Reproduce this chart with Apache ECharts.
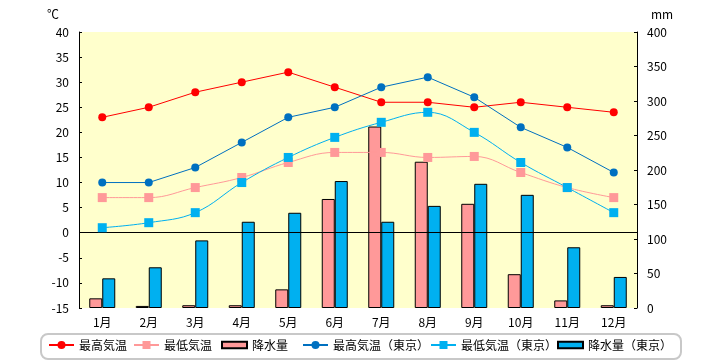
<!DOCTYPE html>
<html><head><meta charset="utf-8">
<script src="https://cdn.jsdelivr.net/npm/echarts@6/dist/echarts.min.js"></script>
<style>html,body{margin:0;padding:0;background:#fff}#c{width:720px;height:360px}</style>
</head><body><div id="c"></div>
<script>
const months = ['1月','2月','3月','4月','5月','6月','7月','8月','9月','10月','11月','12月'];
const maxTemp = [23,25,28,30,32,29,26,26,25,26,25,24];
const minTemp = [7,7,9,11,14,16,16,15,15.2,12,9,7];
const precip = [14,3,4,4,27,158,263,212,151,49,11,4];
const maxTempTokyo = [10,10,13,18,23,25,29,31,27,21,17,12];
const minTempTokyo = [1,2,4,10,15,19,22,24,20,14,9,4];
const precipTokyo = [43,59,98,125,138,184,125,148,180,164,88,45];
const seriesNames = ['最高気温','最低気温','降水量','最高気温（東京）','最低気温（東京）','降水量（東京）'];

const font = '"Noto Sans CJK JP", sans-serif';
const chart = echarts.init(document.getElementById('c'));
const barIcon = 'path://M0,0h27v7h-27z';
const legendLeft = [48, 133, 221, 302, 430, 557];
const legends = seriesNames.map((n, i) => ({
  left: legendLeft[i], top: 339, padding: 0,
  itemWidth: 25, itemHeight: 10,
  textStyle: {fontSize: 12, color: '#000', fontFamily: font},
  data: [i === 2 || i === 5 ? {name: n, icon: barIcon} : {name: n}]
}));
chart.setOption({
  animation: false,
  textStyle: {fontFamily: font},
  grid: {left: 79, right: 83, top: 32, bottom: 52, show: true, backgroundColor: '#FFFFCC', borderWidth: 0},
  graphic: [{type: 'rect', left: 40, top: 333, z: -1,
    shape: {width: 640, height: 25, r: 7},
    style: {fill: '#fff', stroke: '#c8c8c8', lineWidth: 2}}],
  legend: legends,
  xAxis: {
    type: 'category', data: months,
    axisLine: {show: false, onZero: false}, axisTick: {show: false},
    axisLabel: {color: '#000', fontSize: 12, margin: 8, fontFamily: font}
  },
  yAxis: [
    {type: 'value', min: -15, max: 40, interval: 5, name: '℃', nameGap: 12,
     nameTextStyle: {color: '#000', fontSize: 12, align: 'right', padding: [0, 20, 0, 0]},
     axisLine: {show: true, lineStyle: {color: '#000'}},
     axisTick: {show: true, inside: true, length: 3, lineStyle: {color: '#000'}},
     splitLine: {show: false},
     axisLabel: {color: '#000', fontSize: 12, margin: 10, fontFamily: font}},
    {type: 'value', min: 0, max: 400, interval: 50, name: 'mm', nameGap: 12,
     nameTextStyle: {color: '#000', fontSize: 12, align: 'left', padding: [0, 0, 0, 14]},
     axisLine: {show: true, lineStyle: {color: '#000'}},
     axisTick: {show: true, inside: true, length: 3, lineStyle: {color: '#000'}},
     splitLine: {show: false},
     axisLabel: {color: '#000', fontSize: 12, margin: 10, fontFamily: font}}
  ],
  series: [
    {name: seriesNames[0], type: 'line', data: maxTemp, yAxisIndex: 0, z: 5,
     symbol: 'circle', symbolSize: 8, itemStyle: {color: '#FF0000'}, lineStyle: {color: '#FF0000', width: 1},
     markLine: {silent: true, symbol: 'none', label: {show: false}, lineStyle: {color: '#000', width: 1, type: 'solid'}, data: [{yAxis: 0}]}},
    {name: seriesNames[1], type: 'line', data: minTemp, yAxisIndex: 0, z: 5, smooth: 0.4,
     symbol: 'rect', symbolSize: 9, itemStyle: {color: '#FF9999'}, lineStyle: {color: '#FF9999', width: 1}},
    {name: seriesNames[2], type: 'bar', data: precip, yAxisIndex: 1, barWidth: 13, barGap: '0%', z: 2,
     itemStyle: {color: '#FF9999', borderColor: '#000', borderWidth: 1}},
    {name: seriesNames[3], type: 'line', data: maxTempTokyo, yAxisIndex: 0, z: 5,
     symbol: 'circle', symbolSize: 8, itemStyle: {color: '#0070C0'}, lineStyle: {color: '#0070C0', width: 1}},
    {name: seriesNames[4], type: 'line', data: minTempTokyo, yAxisIndex: 0, z: 5, smooth: 0.4,
     symbol: 'rect', symbolSize: 9, itemStyle: {color: '#00B0F0'}, lineStyle: {color: '#00B0F0', width: 1}},
    {name: seriesNames[5], type: 'bar', data: precipTokyo, yAxisIndex: 1, barWidth: 13, barGap: '0%', z: 2,
     itemStyle: {color: '#00B0F0', borderColor: '#000', borderWidth: 1}}
  ]
});
</script></body></html>
